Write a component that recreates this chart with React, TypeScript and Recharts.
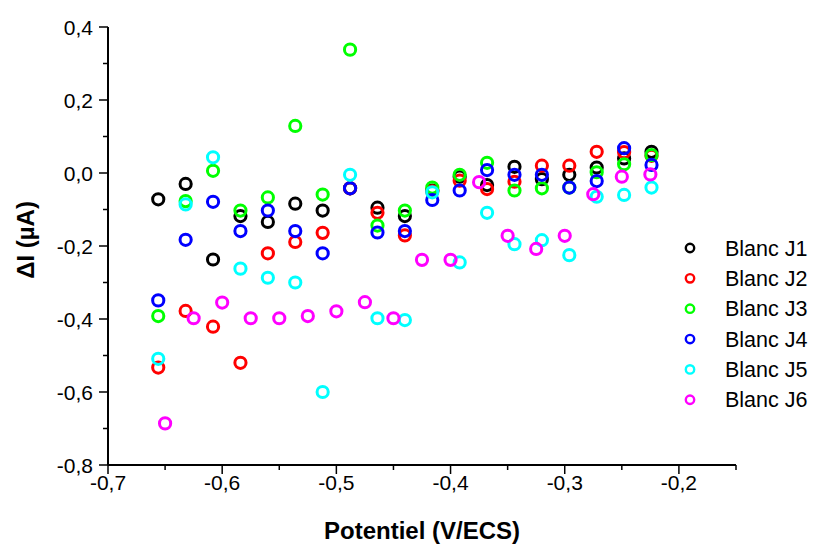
import { ScatterChart, Scatter, XAxis, YAxis, Legend } from "recharts";

const potentials = [
  -0.656, -0.632, -0.608, -0.584, -0.56, -0.536, -0.512, -0.488, -0.464, -0.44,
  -0.416, -0.392, -0.368, -0.344, -0.32, -0.296, -0.272, -0.248, -0.224,
];
const potentialsJ6 = [
  -0.65, -0.625, -0.6, -0.575, -0.55, -0.525, -0.5, -0.475, -0.45, -0.425,
  -0.4, -0.375, -0.35, -0.325, -0.3, -0.275, -0.25, -0.225,
];

const blancJ1 = [-0.072, -0.03, -0.237, -0.118, -0.134, -0.084, -0.103, -0.042, -0.095, -0.118, -0.048, -0.01, -0.033, 0.017, -0.017, -0.005, 0.015, 0.04, 0.058];
const blancJ2 = [-0.533, -0.378, -0.421, -0.52, -0.22, -0.189, -0.164, -0.042, -0.109, -0.171, -0.05, -0.021, -0.044, -0.024, 0.02, 0.02, 0.058, 0.057, 0.047];
const blancJ3 = [-0.392, -0.077, 0.006, -0.103, -0.067, 0.129, -0.059, 0.338, -0.144, -0.103, -0.04, -0.005, 0.028, -0.048, -0.042, -0.04, 0.002, 0.024, 0.049];
const blancJ4 = [-0.349, -0.183, -0.079, -0.159, -0.103, -0.159, -0.22, -0.042, -0.163, -0.159, -0.074, -0.048, 0.008, -0.005, -0.005, -0.04, -0.022, 0.068, 0.022];
const blancJ5 = [-0.509, -0.086, 0.043, -0.262, -0.287, -0.3, -0.6, -0.005, -0.398, -0.403, -0.053, -0.245, -0.109, -0.195, -0.184, -0.225, -0.065, -0.06, -0.04];
const blancJ6 = [-0.686, -0.398, -0.355, -0.398, -0.398, -0.392, -0.379, -0.354, -0.398, -0.238, -0.238, -0.025, -0.172, -0.208, -0.172, -0.058, -0.01, -0.004];

const xTicks = [-0.7, -0.65, -0.6, -0.55, -0.5, -0.45, -0.4, -0.35, -0.3, -0.25, -0.2, -0.15];
const yTicks = [-0.8, -0.7, -0.6, -0.5, -0.4, -0.3, -0.2, -0.1, 0, 0.1, 0.2, 0.3, 0.4];

const FONT = "'Liberation Sans', Arial, sans-serif";

const series = [
  { name: "Blanc J1", color: "#000000", xs: potentials, ys: blancJ1 },
  { name: "Blanc J2", color: "#FF0000", xs: potentials, ys: blancJ2 },
  { name: "Blanc J3", color: "#00FF00", xs: potentials, ys: blancJ3 },
  { name: "Blanc J4", color: "#0000FF", xs: potentials, ys: blancJ4 },
  { name: "Blanc J5", color: "#00FFFF", xs: potentials, ys: blancJ5 },
  { name: "Blanc J6", color: "#FF00FF", xs: potentialsJ6, ys: blancJ6 },
];

// labelled ticks: every 0.1 on x, every 0.2 on y
const onStep = (v: number, per: number) => Math.abs(v * per - Math.round(v * per)) < 1e-6;
const fmt = (v: number) => v.toFixed(1).replace(".", ",");

function XTick({ x, y, payload }: any) {
  const major = onStep(payload.value, 10);
  return (
    <g>
      <line x1={x} y1={y} x2={x} y2={y + (major ? 9 : 5)} stroke="#000" strokeWidth={1.5} />
      {major && (
        <text x={x} y={y + 25} textAnchor="middle" fontSize={21} fontFamily={FONT} fill="#000">
          {fmt(payload.value)}
        </text>
      )}
    </g>
  );
}

function YTick({ x, y, payload }: any) {
  const major = onStep(payload.value, 5);
  return (
    <g>
      <line x1={x} y1={y} x2={x - (major ? 9 : 5)} y2={y} stroke="#000" strokeWidth={1.5} />
      {major && (
        <text x={x - 15} y={y + 7.5} textAnchor="end" fontSize={21} fontFamily={FONT} fill="#000">
          {fmt(payload.value)}
        </text>
      )}
    </g>
  );
}

function LegendBox() {
  return (
    <svg width={139} height={190} style={{ display: "block" }}>
      {series.map((s, i) => (
        <g key={s.name}>
          <circle cx={10} cy={15 + i * 30.35} r={4.2} fill="none" stroke={s.color} strokeWidth={2.4} />
          <text x={45} y={15 + i * 30.35 + 7.5} fontSize={21.5} fontFamily={FONT} fill="#000">
            {s.name}
          </text>
        </g>
      ))}
    </svg>
  );
}

export default function App() {
  return (
    <div style={{ position: "absolute", left: 0, top: 0, background: "#fff" }}>
      <ScatterChart width={819} height={546} margin={{ top: 27, right: 83, bottom: 0, left: 0 }}>
        <XAxis
          type="number"
          dataKey="x"
          domain={[-0.7, -0.15]}
          ticks={xTicks}
          interval={0}
          height={81}
          tickSize={0}
          tickMargin={0}
          tickLine={false}
          tick={<XTick />}
          axisLine={{ stroke: "#000", strokeWidth: 2 }}
          label={{
            value: "Potentiel (V/ECS)",
            position: "insideBottom",
            offset: 7,
            style: { fontSize: 24, fontWeight: "bold", fontFamily: FONT, fill: "#000" },
          }}
        />
        <YAxis
          type="number"
          dataKey="y"
          domain={[-0.8, 0.4]}
          ticks={yTicks}
          interval={0}
          width={108}
          tickSize={0}
          tickMargin={0}
          tickLine={false}
          tick={<YTick />}
          axisLine={{ stroke: "#000", strokeWidth: 2 }}
          label={{
            value: "ΔI (µA)",
            angle: -90,
            position: "insideLeft",
            offset: 25,
            dy: -6,
            style: { fontSize: 24, fontWeight: "bold", fontFamily: FONT, fill: "#000", textAnchor: "middle" },
          }}
        />
        <Legend
          layout="vertical"
          align="center"
          verticalAlign="middle"
          wrapperStyle={{ left: 680, top: 233, width: 139 }}
          content={() => <LegendBox />}
        />
        {series.map((s) => (
          <Scatter
            key={s.name}
            name={s.name}
            data={s.xs.map((x, i) => ({ x, y: s.ys[i] }))}
            isAnimationActive={false}
            shape={(p: any) => (
              <circle cx={p.cx} cy={p.cy} r={5.6} fill="none" stroke={s.color} strokeWidth={3} />
            )}
          />
        ))}
      </ScatterChart>
    </div>
  );
}
